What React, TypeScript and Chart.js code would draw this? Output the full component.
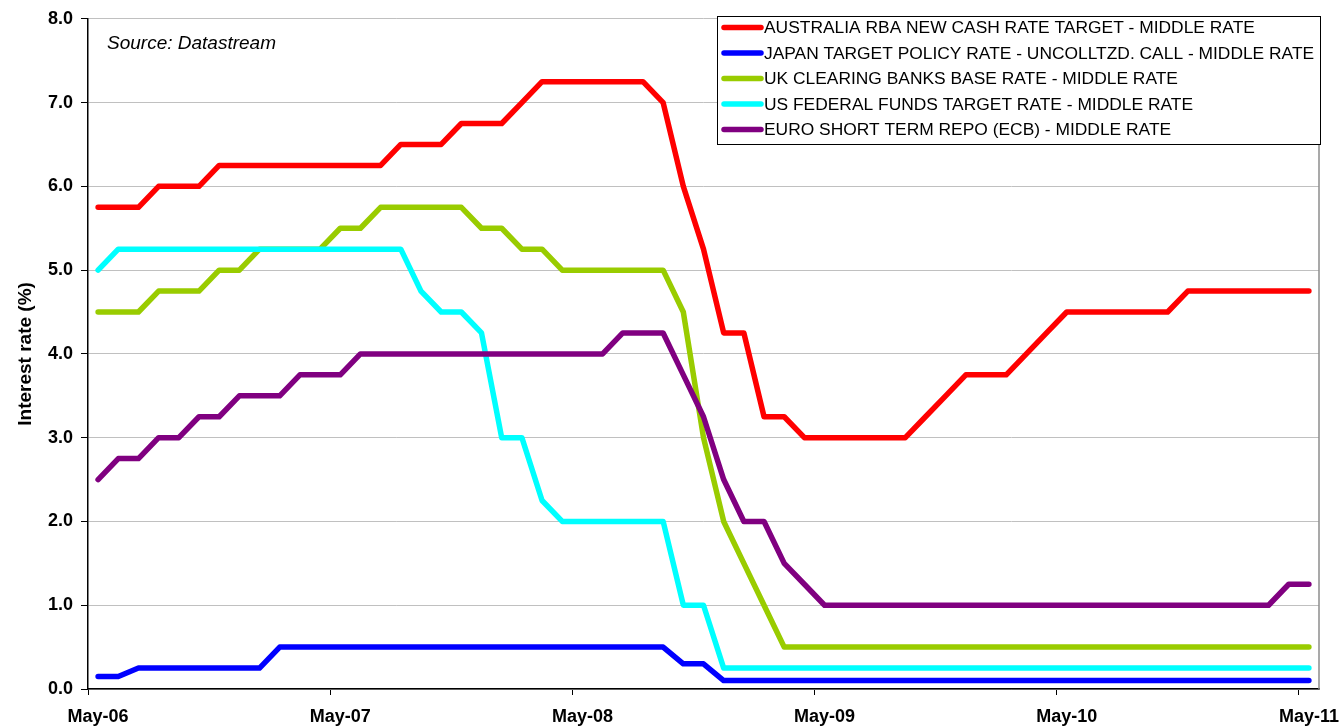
import React, { useEffect, useRef } from "react";
import { Chart, registerables } from "chart.js";

Chart.register(...registerables);

const MONTHS = [
  "May-06", "Jun-06", "Jul-06", "Aug-06", "Sep-06", "Oct-06", "Nov-06", "Dec-06",
  "Jan-07", "Feb-07", "Mar-07", "Apr-07", "May-07", "Jun-07", "Jul-07", "Aug-07", "Sep-07", "Oct-07", "Nov-07", "Dec-07",
  "Jan-08", "Feb-08", "Mar-08", "Apr-08", "May-08", "Jun-08", "Jul-08", "Aug-08", "Sep-08", "Oct-08", "Nov-08", "Dec-08",
  "Jan-09", "Feb-09", "Mar-09", "Apr-09", "May-09", "Jun-09", "Jul-09", "Aug-09", "Sep-09", "Oct-09", "Nov-09", "Dec-09",
  "Jan-10", "Feb-10", "Mar-10", "Apr-10", "May-10", "Jun-10", "Jul-10", "Aug-10", "Sep-10", "Oct-10", "Nov-10", "Dec-10",
  "Jan-11", "Feb-11", "Mar-11", "Apr-11", "May-11",
];

const AUSTRALIA = [
  5.75, 5.75, 5.75, 6.0, 6.0, 6.0, 6.25, 6.25, 6.25, 6.25, 6.25, 6.25, 6.25, 6.25, 6.25,
  6.5, 6.5, 6.5, 6.75, 6.75, 6.75, 7.0, 7.25, 7.25, 7.25, 7.25, 7.25, 7.25, 7.0, 6.0,
  5.25, 4.25, 4.25, 3.25, 3.25, 3.0, 3.0, 3.0, 3.0, 3.0, 3.0, 3.25, 3.5, 3.75, 3.75,
  3.75, 4.0, 4.25, 4.5, 4.5, 4.5, 4.5, 4.5, 4.5, 4.75, 4.75, 4.75, 4.75, 4.75, 4.75, 4.75,
];

const JAPAN = [
  0.15, 0.15, 0.25, 0.25, 0.25, 0.25, 0.25, 0.25, 0.25, 0.5, 0.5, 0.5, 0.5, 0.5, 0.5,
  0.5, 0.5, 0.5, 0.5, 0.5, 0.5, 0.5, 0.5, 0.5, 0.5, 0.5, 0.5, 0.5, 0.5, 0.3,
  0.3, 0.1, 0.1, 0.1, 0.1, 0.1, 0.1, 0.1, 0.1, 0.1, 0.1, 0.1, 0.1, 0.1, 0.1,
  0.1, 0.1, 0.1, 0.1, 0.1, 0.1, 0.1, 0.1, 0.1, 0.1, 0.1, 0.1, 0.1, 0.1, 0.1, 0.1,
];

const UK = [
  4.5, 4.5, 4.5, 4.75, 4.75, 4.75, 5.0, 5.0, 5.25, 5.25, 5.25, 5.25, 5.5, 5.5, 5.75,
  5.75, 5.75, 5.75, 5.75, 5.5, 5.5, 5.25, 5.25, 5.0, 5.0, 5.0, 5.0, 5.0, 5.0, 4.5,
  3.0, 2.0, 1.5, 1.0, 0.5, 0.5, 0.5, 0.5, 0.5, 0.5, 0.5, 0.5, 0.5, 0.5, 0.5,
  0.5, 0.5, 0.5, 0.5, 0.5, 0.5, 0.5, 0.5, 0.5, 0.5, 0.5, 0.5, 0.5, 0.5, 0.5, 0.5,
];

const US = [
  5.0, 5.25, 5.25, 5.25, 5.25, 5.25, 5.25, 5.25, 5.25, 5.25, 5.25, 5.25, 5.25, 5.25, 5.25,
  5.25, 4.75, 4.5, 4.5, 4.25, 3.0, 3.0, 2.25, 2.0, 2.0, 2.0, 2.0, 2.0, 2.0, 1.0,
  1.0, 0.25, 0.25, 0.25, 0.25, 0.25, 0.25, 0.25, 0.25, 0.25, 0.25, 0.25, 0.25, 0.25, 0.25,
  0.25, 0.25, 0.25, 0.25, 0.25, 0.25, 0.25, 0.25, 0.25, 0.25, 0.25, 0.25, 0.25, 0.25, 0.25, 0.25,
];

const EURO = [
  2.5, 2.75, 2.75, 3.0, 3.0, 3.25, 3.25, 3.5, 3.5, 3.5, 3.75, 3.75, 3.75, 4.0, 4.0,
  4.0, 4.0, 4.0, 4.0, 4.0, 4.0, 4.0, 4.0, 4.0, 4.0, 4.0, 4.25, 4.25, 4.25, 3.75,
  3.25, 2.5, 2.0, 2.0, 1.5, 1.25, 1.0, 1.0, 1.0, 1.0, 1.0, 1.0, 1.0, 1.0, 1.0,
  1.0, 1.0, 1.0, 1.0, 1.0, 1.0, 1.0, 1.0, 1.0, 1.0, 1.0, 1.0, 1.0, 1.0, 1.25, 1.25,
];

const SERIES_NAMES = [
  "AUSTRALIA RBA NEW CASH RATE TARGET - MIDDLE RATE",
  "JAPAN TARGET POLICY RATE - UNCOLLTZD. CALL - MIDDLE RATE",
  "UK CLEARING BANKS BASE RATE - MIDDLE RATE",
  "US FEDERAL FUNDS TARGET RATE - MIDDLE RATE",
  "EURO SHORT TERM REPO (ECB) - MIDDLE RATE",
];
const SERIES_DATA = [AUSTRALIA, JAPAN, UK, US, EURO];
const SERIES_COLORS = ["#FF0000", "#0000FF", "#99CC00", "#00FFFF", "#800080"];

const Y_TITLE = "Interest rate (%)";
const SOURCE_NOTE = "Source: Datastream";
const LABEL_EVERY = 12;

const FONT = 'Arial, "Liberation Sans", sans-serif';

export default function App() {
  const ref = useRef<HTMLCanvasElement | null>(null);

  useEffect(() => {
    if (!ref.current) return;

    const overlay = {
      id: "overlay",
      afterDatasetsDraw(chart: any) {
        const { ctx, chartArea } = chart;
        ctx.save();
        ctx.strokeStyle = "#8c8c8c";
        ctx.lineWidth = 1.5;
        ctx.beginPath();
        ctx.moveTo(chartArea.right, chartArea.top);
        ctx.lineTo(chartArea.right, chartArea.bottom);
        ctx.stroke();
        ctx.restore();
      },
      afterDraw(chart: any) {
        const { ctx } = chart;
        ctx.save();
        // source note
        ctx.fillStyle = "#000";
        ctx.font = `italic 19px ${FONT}`;
        ctx.textBaseline = "alphabetic";
        ctx.textAlign = "left";
        ctx.fillText(SOURCE_NOTE, 107, 49);

        // legend box
        const bx = 717, by = 16, bw = 603, bh = 128;
        ctx.fillStyle = "#fff";
        ctx.fillRect(bx, by, bw, bh);
        ctx.strokeStyle = "#000";
        ctx.lineWidth = 1;
        ctx.strokeRect(bx + 0.5, by + 0.5, bw, bh);
        ctx.font = `17.4px ${FONT}`;
        ctx.textBaseline = "middle";
        SERIES_NAMES.forEach((name, i) => {
          const y = by + 11.5 + i * 25.5;
          ctx.strokeStyle = SERIES_COLORS[i];
          ctx.lineWidth = 5.5;
          ctx.lineCap = "round";
          ctx.beginPath();
          ctx.moveTo(bx + 7, y);
          ctx.lineTo(bx + 44, y);
          ctx.stroke();
          ctx.fillStyle = "#000";
          ctx.fillText(name, bx + 47, y + 1);
        });
        ctx.restore();
      },
    };

    const chart = new Chart(ref.current, {
      type: "line",
      data: {
        labels: MONTHS,
        datasets: SERIES_NAMES.map((name, i) => ({
          label: name,
          data: SERIES_DATA[i],
          borderColor: SERIES_COLORS[i],
          backgroundColor: SERIES_COLORS[i],
          borderWidth: 5.5,
          borderCapStyle: "round",
          borderJoinStyle: "round",
          pointRadius: 0,
          tension: 0,
          fill: false,
          order: SERIES_NAMES.length - 1 - i,
        })),
      },
      options: {
        animation: false,
        responsive: true,
        maintainAspectRatio: false,
        layout: { padding: { top: 17, right: 24, left: 0, bottom: 0 } },
        plugins: {
          legend: { display: false },
          tooltip: { enabled: false },
        },
        scales: {
          x: {
            type: "category",
            offset: true,
            afterFit(scale: any) {
              scale.height = 38;
              scale.paddingRight = 0;
              scale.paddingLeft = 0;
            },
            border: { display: true, color: "#000", width: 1.5 },
            grid: {
              offset: true,
              drawOnChartArea: false,
              drawTicks: true,
              tickLength: 6,
              tickColor: (c: any) => (c.index % LABEL_EVERY === 0 ? "#000" : "rgba(0,0,0,0)"),
              color: "rgba(0,0,0,0)",
            },
            ticks: {
              autoSkip: false,
              maxRotation: 0,
              minRotation: 0,
              padding: 11,
              color: "#000",
              font: { family: FONT, size: 18, weight: "bold" },
              callback: (_v: any, i: number) => (i % LABEL_EVERY === 0 ? MONTHS[i] : ""),
            },
          },
          y: {
            min: 0,
            max: 8,
            afterFit(scale: any) {
              scale.width = 88;
            },
            border: { display: true, color: "#000", width: 1.5 },
            grid: {
              color: "#c0c0c0",
              lineWidth: 1,
              tickColor: "#000",
              tickLength: 7,
              drawTicks: true,
            },
            ticks: {
              stepSize: 1,
              padding: 8,
              color: "#000",
              font: { family: FONT, size: 18, weight: "bold" },
              callback: (v: any) => Number(v).toFixed(1),
            },
            title: {
              display: true,
              text: Y_TITLE,
              color: "#000",
              font: { family: FONT, size: 19, weight: "bold" },
              padding: { top: 14, bottom: 0 },
            },
          },
        },
      },
      plugins: [overlay],
    });
    return () => chart.destroy();
  }, []);

  return (
    <div style={{ position: "absolute", left: 0, top: 0, width: 1343, height: 727, background: "#fff" }}>
      <canvas ref={ref} />
    </div>
  );
}
